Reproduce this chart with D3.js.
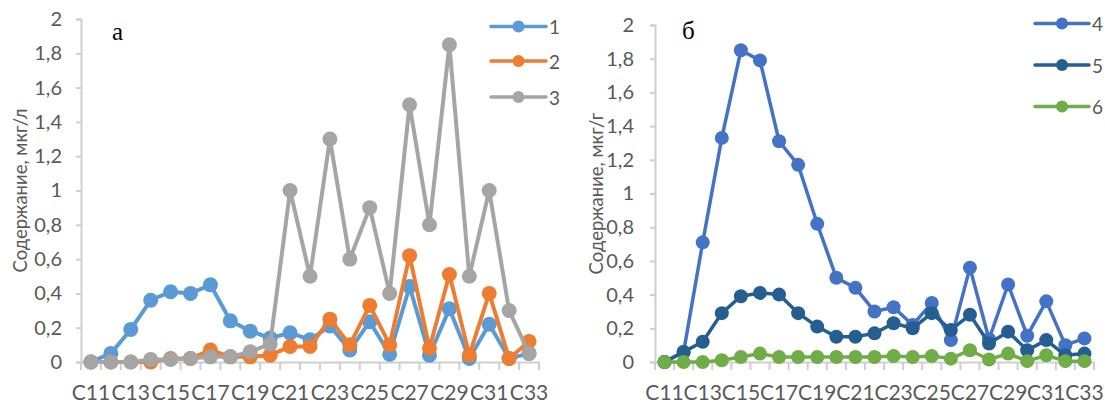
<!DOCTYPE html>
<html><head><meta charset="utf-8">
<script src="https://cdn.jsdelivr.net/npm/d3@7"></script>
<style>
html,body{margin:0;padding:0;background:#fff;}
svg{display:block;}
text{font-family:Lato,"Open Sans",sans-serif;}
</style></head>
<body>
<svg id="chart" width="1105" height="403"></svg>
<script>
const categories = ["C11","C12","C13","C14","C15","C16","C17","C18","C19","C20","C21","C22","C23","C24","C25","C26","C27","C28","C29","C30","C31","C32","C33"];
const xTickLabels = ["C11","C13","C15","C17","C19","C21","C23","C25","C27","C29","C31","C33"];
const yTicks = [0,0.2,0.4,0.6,0.8,1,1.2,1.4,1.6,1.8,2];

const series1 = [0,0.05,0.19,0.36,0.41,0.40,0.45,0.24,0.18,0.14,0.17,0.13,0.21,0.07,0.235,0.045,0.44,0.04,0.31,0.02,0.22,0.02,0.05];
const series2 = [0,0,0,0,0.02,0.02,0.07,0.03,0.03,0.04,0.09,0.09,0.25,0.10,0.33,0.10,0.62,0.08,0.51,0.04,0.40,0.02,0.12];
const series3 = [0,0,0,0.015,0.015,0.02,0.03,0.03,0.06,0.105,1.0,0.5,1.3,0.6,0.9,0.4,1.5,0.8,1.85,0.5,1.0,0.3,0.05];

const series4 = [0,0.06,0.71,1.33,1.85,1.79,1.31,1.17,0.82,0.50,0.44,0.30,0.325,0.22,0.35,0.13,0.56,0.135,0.46,0.156,0.36,0.10,0.14];
const series5 = [0,0.06,0.12,0.29,0.39,0.41,0.40,0.29,0.21,0.15,0.15,0.17,0.23,0.20,0.29,0.19,0.28,0.11,0.18,0.07,0.13,0.04,0.05];
const series6 = [0,0,0,0.01,0.03,0.05,0.03,0.03,0.03,0.03,0.03,0.03,0.035,0.03,0.035,0.02,0.07,0.015,0.05,0.005,0.04,0.005,0.005];

const seriesLeft = [
  {name:"1", values:series1, color:"#5B9BD5"},
  {name:"2", values:series2, color:"#ED7D31"},
  {name:"3", values:series3, color:"#A5A5A5"}
];
const seriesRight = [
  {name:"4", values:series4, color:"#4472C4"},
  {name:"5", values:series5, color:"#255E91"},
  {name:"6", values:series6, color:"#70AD47"}
];

const svg = d3.select("#chart");
const fmt = v => String(v).replace(".", ",");
const axisColor = "#CFCFCF";
const textColor = "#595959";

function drawPanel(cfg){
  const g = svg.append("g");
  const x = d3.scaleBand().domain(categories).range([cfg.x0, cfg.x1]).padding(0);
  const y = d3.scaleLinear().domain([0,2]).range([cfg.yBottom, cfg.yTop]);
  const cx = c => x(c) + x.bandwidth()/2;

  // y axis
  const ya = g.append("g").attr("transform", `translate(${cfg.x0},0)`)
    .call(d3.axisLeft(y).tickValues(yTicks).tickFormat(fmt).tickSize(5).tickPadding(cfg.yPad));
  ya.select(".domain").attr("stroke", axisColor).attr("stroke-width", 2);
  ya.selectAll(".tick line").attr("stroke", axisColor).attr("stroke-width", 2);
  ya.selectAll(".tick text").attr("fill", textColor).style("font-size", "20px").style("font-family", "Lato, sans-serif");

  // x axis
  const xa = g.append("g").attr("transform", `translate(0,${cfg.yBottom})`)
    .call(d3.axisBottom(x).tickValues(xTickLabels).tickSize(0).tickPadding(23));
  xa.select(".domain").attr("stroke", axisColor).attr("stroke-width", 2);
  xa.selectAll(".tick text").attr("fill", textColor).style("font-size", "21px").style("font-family", "Lato, sans-serif");
  // boundary tick marks
  const bounds = categories.map(c => x(c)).concat([cfg.x1]);
  g.append("g").selectAll("line").data(bounds).join("line")
    .attr("x1", d => d).attr("x2", d => d)
    .attr("y1", cfg.yBottom).attr("y2", cfg.yBottom + 8)
    .attr("stroke", axisColor).attr("stroke-width", 2);

  // axis title
  g.append("text")
    .attr("transform", `translate(${cfg.titleX},${(cfg.yTop+cfg.yBottom)/2}) rotate(-90)`)
    .attr("text-anchor", "middle").attr("dominant-baseline", "central")
    .attr("fill", textColor).style("font-size", "18.5px")
    .text(cfg.title);

  // panel letter
  g.append("text").attr("x", cfg.letterX).attr("y", cfg.letterY)
    .style("font-family", "'Liberation Serif','DejaVu Serif',serif").style("font-size", "25px")
    .attr("fill", "#000").text(cfg.letter);

  // series
  const line = d3.line().x((d,i) => cx(categories[i])).y(d => y(d));
  cfg.series.forEach(s => {
    const sg = g.append("g");
    sg.append("path").datum(s.values).attr("d", line)
      .attr("fill", "none").attr("stroke", s.color).attr("stroke-width", cfg.lw)
      .attr("stroke-linejoin", "round");
    sg.selectAll("circle").data(s.values).join("circle")
      .attr("cx", (d,i) => cx(categories[i])).attr("cy", d => y(d))
      .attr("r", cfg.r).attr("fill", s.color);
  });

  // legend
  cfg.series.forEach((s, i) => {
    const ly = cfg.legY[i];
    const lg = g.append("g");
    lg.append("line").attr("x1", cfg.legX0).attr("x2", cfg.legX1).attr("y1", ly).attr("y2", ly)
      .attr("stroke", s.color).attr("stroke-width", 3.5).attr("stroke-linecap", "round");
    lg.append("circle").attr("cx", (cfg.legX0+cfg.legX1)/2).attr("cy", ly).attr("r", 6).attr("fill", s.color);
    lg.append("text").attr("x", cfg.legX1 + 3).attr("y", ly).attr("dominant-baseline", "central")
      .attr("fill", textColor).style("font-size", "19px").text(s.name);
  });
}

drawPanel({
  x0: 81, x1: 539, yBottom: 362, yTop: 19, yPad: 14,
  titleX: 20, title: "Содержание, мкг/л", letter: "а", letterX: 112, letterY: 40,
  series: seriesLeft, lw: 4, r: 7.5,
  legX0: 491, legX1: 546, legY: [26.5, 61, 97]
});
drawPanel({
  x0: 655, x1: 1094, yBottom: 362, yTop: 25, yPad: 16,
  titleX: 596, title: "Содержание, мкг/г", letter: "б", letterX: 682, letterY: 39,
  series: seriesRight, lw: 3.5, r: 7,
  legX0: 1035, legX1: 1089, legY: [23.5, 65, 106.5]
});
</script>
</body></html>
